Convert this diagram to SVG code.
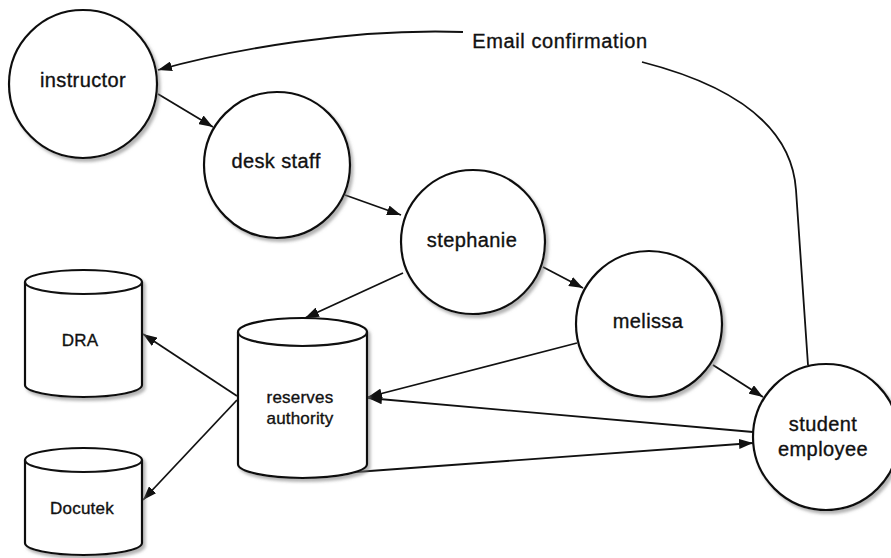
<svg xmlns="http://www.w3.org/2000/svg" width="891" height="558" viewBox="0 0 891 558">
  <style>
    .node { fill: #ffffff; stroke: #111111; stroke-width: 2.2; filter: url(#shadow); }
    .lid { fill: none; stroke: #111111; stroke-width: 2.2; }
    .lbl { font-family: "Liberation Sans", Arial, Helvetica, sans-serif; font-size: 20px; letter-spacing: 0.4px; fill: #111111; stroke: #111111; stroke-width: 0.35; text-anchor: middle; }
    .small { font-size: 17px; letter-spacing: 0.2px; }
    .edge { fill: none; stroke: #111111; stroke-width: 1.8; marker-end: url(#arrow); }
    .plain { fill: none; stroke: #111111; stroke-width: 1.8; }
  </style>
  <defs>
    <filter id="shadow" x="-20%" y="-20%" width="150%" height="150%">
      <feDropShadow dx="2.5" dy="3" stdDeviation="1.8" flood-color="#777777" flood-opacity="0.55"/>
    </filter>
    <marker id="arrow" viewBox="0 0 14 10" refX="14" refY="5" markerWidth="14" markerHeight="10" markerUnits="userSpaceOnUse" orient="auto">
      <path d="M0,0 L14,5 L0,10 Z" fill="#111111"/>
    </marker>
  </defs>
  <rect width="891" height="558" fill="#ffffff"/>

  <!-- connectors -->
  <g id="connectors">
    <line class="edge" x1="158" y1="94" x2="213" y2="127"/>
    <line class="edge" x1="345" y1="195" x2="401" y2="215"/>
    <line class="edge" x1="543" y1="267" x2="583" y2="288"/>
    <line class="edge" x1="713" y1="365" x2="763" y2="397"/>
    <line class="edge" x1="403" y1="273" x2="305" y2="318"/>
    <line class="edge" x1="577" y1="343" x2="368" y2="397"/>
    <line class="edge" x1="753" y1="432" x2="368" y2="398"/>
    <line class="edge" x1="356" y1="472" x2="753" y2="443"/>
    <line class="edge" x1="237" y1="396" x2="143" y2="334"/>
    <line class="edge" x1="237" y1="400" x2="143" y2="500"/>
    <!-- email confirmation return path -->
    <path class="plain" d="M808 365 L796 190 Q790 100 642 62"/>
    <path class="edge" d="M463 32 C350 28 230 50 158 70"/>
    <text class="lbl" x="560" y="48" style="letter-spacing:0.6px">Email confirmation</text>
  </g>

  <!-- process nodes -->
  <g id="instructor">
    <circle class="node" cx="83" cy="84" r="74"/>
    <text class="lbl" x="83" y="87">instructor</text>
  </g>
  <g id="desk-staff">
    <circle class="node" cx="277" cy="165" r="73"/>
    <text class="lbl" x="276" y="168">desk staff</text>
  </g>
  <g id="stephanie">
    <circle class="node" cx="473" cy="242" r="72"/>
    <text class="lbl" x="472" y="247">stephanie</text>
  </g>
  <g id="melissa">
    <circle class="node" cx="649" cy="324" r="73"/>
    <text class="lbl" x="648" y="328">melissa</text>
  </g>
  <g id="student-employee">
    <circle class="node" cx="826" cy="437" r="73"/>
    <text class="lbl" x="823" y="431">student</text>
    <text class="lbl" x="823" y="456">employee</text>
  </g>

  <!-- data stores -->
  <g id="dra">
    <path class="node" d="M25 282 A58.5 12 0 0 1 142 282 V385 A58.5 12 0 0 1 25 385 Z"/>
    <path class="lid" d="M25 282 A58.5 12 0 0 0 142 282"/>
    <text class="lbl small" x="80" y="346">DRA</text>
  </g>
  <g id="docutek">
    <path class="node" d="M25 460 A58.5 12 0 0 1 142 460 V543 A58.5 12 0 0 1 25 543 Z"/>
    <path class="lid" d="M25 460 A58.5 12 0 0 0 142 460"/>
    <text class="lbl small" x="82" y="514">Docutek</text>
  </g>
  <g id="reserves-authority">
    <path class="node" d="M238 332 A64.5 14 0 0 1 367 332 V464 A64.5 14 0 0 1 238 464 Z"/>
    <path class="lid" d="M238 332 A64.5 14 0 0 0 367 332"/>
    <text class="lbl small" x="300" y="403">reserves</text>
    <text class="lbl small" x="300" y="424">authority</text>
  </g>
</svg>
